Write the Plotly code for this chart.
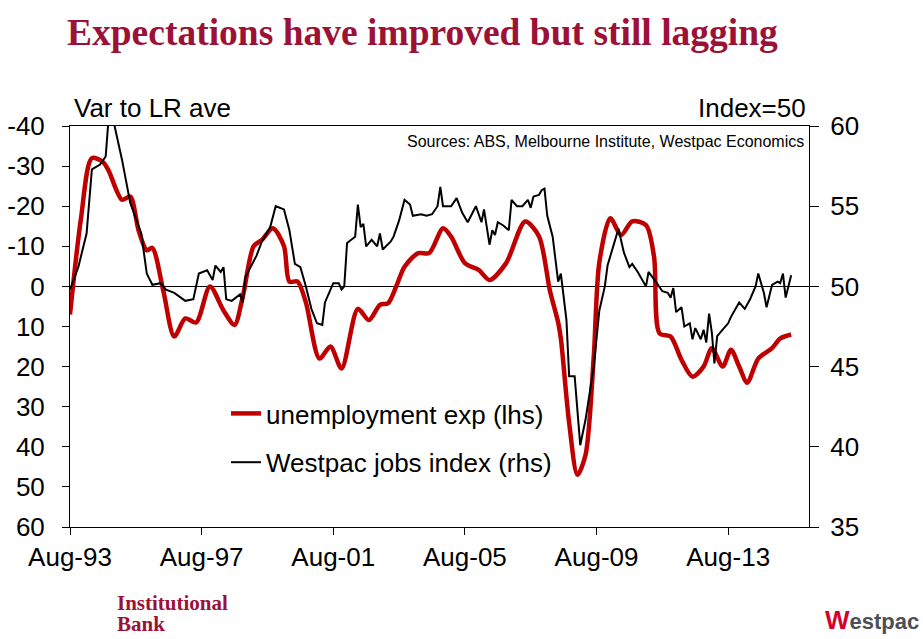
import plotly.graph_objects as go

# unemployment expectations, var to long-run average (lhs, inverted)
unemp_dates = ["1993-08", "1993-12", "1994-04", "1994-08", "1994-10", "1995-03", "1995-06",
               "1995-09", "1995-12", "1996-02", "1996-06", "1996-10", "1997-02", "1997-06",
               "1997-11", "1998-04", "1998-08", "1998-11", "1999-03", "1999-06", "1999-10",
               "2000-02", "2000-04", "2000-07", "2000-10", "2001-03", "2001-07", "2001-11",
               "2002-05", "2002-09", "2003-01", "2003-04", "2003-07", "2003-10", "2004-03",
               "2004-07", "2004-12", "2005-03", "2005-08", "2006-01", "2006-05", "2006-11",
               "2007-06", "2007-11", "2008-03", "2008-06", "2008-07", "2008-10", "2009-01",
               "2009-04", "2009-07", "2009-09", "2010-01", "2010-05", "2010-09", "2011-02",
               "2011-05", "2011-07", "2011-11", "2012-03", "2012-07", "2012-11", "2013-02",
               "2013-06", "2013-09", "2013-12", "2014-03", "2014-07", "2014-12", "2015-03",
               "2015-07"]
unemp_values = [7, -17, -32, -31, -29, -21.6, -22.4,
                -14, -9, -9.6, 1, 12.5, 8, 9,
                0, 6, 9.6, 2.5, -10, -11.6, -14.5,
                -10, -1.2, -1.2, 4, 18, 15, 20.5,
                5.6, 8.4, 4.6, 4.2, 0, -4.9, -8.3,
                -8.3, -14.5, -12.4, -5.8, -4.1, -1.6, -5.8,
                -16.2, -12.5, 1, 9, 13, 34, 47,
                42, 17.5, -6, -17, -12.8, -16.2, -15.3,
                -7.4, 11.7, 12.5, 18.3, 22.5, 20, 15.4,
                20, 15.8, 20, 24, 18, 15.4, 13,
                12]

# Westpac jobs index (rhs)
jobs_dates = ["1993-08", "1993-11", "1994-02", "1994-04", "1994-07", "1994-09", "1994-10", "1994-12",
              "1995-03", "1995-06", "1995-10", "1995-12", "1996-02", "1996-05", "1996-07", "1996-10",
              "1997-02", "1997-05", "1997-07", "1997-10", "1997-12", "1998-01", "1998-03", "1998-04",
              "1998-05", "1998-07", "1998-10", "1998-11", "1998-12", "1999-04", "1999-06", "1999-09",
              "1999-11", "2000-02", "2000-04", "2000-06", "2000-08", "2000-10", "2000-12", "2001-02",
              "2001-04", "2001-05", "2001-08", "2001-10", "2001-11", "2001-12", "2002-01", "2002-04",
              "2002-05", "2002-06", "2002-07", "2002-08", "2002-10", "2002-12", "2003-01", "2003-02",
              "2003-05", "2003-06", "2003-08", "2003-10", "2003-12", "2004-01", "2004-04", "2004-06",
              "2004-08", "2004-10", "2004-11", "2004-12", "2005-03", "2005-05", "2005-07", "2005-09",
              "2005-12", "2006-02", "2006-03", "2006-05", "2006-06", "2006-07", "2006-08", "2006-10",
              "2006-12", "2007-01", "2007-03", "2007-05", "2007-07", "2007-08", "2007-09", "2007-11",
              "2007-12", "2008-01", "2008-02", "2008-04", "2008-06", "2008-07", "2008-09", "2008-10",
              "2008-12", "2009-02", "2009-04", "2009-07", "2009-09", "2009-11", "2009-12", "2010-04",
              "2010-06", "2010-08", "2010-09", "2010-11", "2011-02", "2011-03", "2011-06", "2011-08",
              "2011-10", "2011-11", "2011-12", "2012-01", "2012-03", "2012-04", "2012-06", "2012-07",
              "2012-08", "2012-10", "2012-11", "2012-12", "2013-01", "2013-02", "2013-03", "2013-04",
              "2013-06", "2013-08", "2013-09", "2013-12", "2014-02", "2014-04", "2014-06", "2014-07",
              "2014-09", "2014-10", "2014-12", "2015-02", "2015-03", "2015-04", "2015-05", "2015-07"]
jobs_values = [49.8, 51.2, 53.3, 57.3, 57.6, 58.1, 60.3, 60.2,
               57.9, 55.2, 53.3, 50.8, 50.1, 50.2, 49.8, 49.6,
               49.1, 49.2, 50.8, 51.0, 50.4, 51.3, 50.9, 51.2,
               49.2, 49.1, 49.5, 49.0, 50.6, 51.9, 52.8, 53.7,
               55.0, 54.8, 53.5, 51.4, 51.2, 50.0, 48.6, 47.7,
               47.6, 49.0, 50.2, 50.2, 49.8, 50.0, 52.7, 53.1,
               55.1, 53.7, 53.9, 52.5, 52.9, 52.5, 53.3, 52.3,
               52.8, 53.1, 54.1, 55.4, 55.1, 54.4, 54.5, 54.4,
               54.5, 55.0, 56.2, 55.0, 55.0, 55.5, 54.6, 54.0,
               55.0, 54.0, 54.8, 52.6, 53.5, 53.2, 54.0, 53.8,
               53.5, 55.4, 55.0, 55.0, 55.4, 54.9, 55.6, 55.7,
               56.0, 56.1, 54.4, 53.1, 50.3, 50.8, 47.9, 44.4,
               44.4, 40.1, 41.7, 45.0, 48.5, 50.0, 51.3, 53.6,
               52.1, 51.2, 51.4, 50.9, 50.0, 50.9, 50.2, 49.7,
               49.6, 49.3, 49.9, 48.4, 48.7, 47.5, 47.7, 46.7,
               47.4, 46.7, 47.3, 46.5, 48.3, 47.1, 45.2, 46.9,
               47.3, 47.7, 48.1, 49.0, 48.6, 49.2, 50.0, 50.8,
               49.6, 48.7, 50.1, 50.3, 50.2, 50.8, 49.3, 50.7]

tick_years = [1993, 1997, 2001, 2005, 2009, 2013]
x_ticks = [f"{y}-08-01" for y in tick_years]
x_labels = [f"Aug-{str(y)[2:]}" for y in tick_years]
lhs_ticks = [-40, -30, -20, -10, 0, 10, 20, 30, 40, 50, 60]
rhs_ticks = [35, 40, 45, 50, 55, 60]

RED = "#C00000"
CRIMSON = "#9C1236"
SANS = "Liberation Sans, Arial, sans-serif"
SERIF = "Liberation Serif, Times New Roman, serif"

fig = go.Figure()
fig.add_trace(go.Scatter(x=unemp_dates, y=unemp_values, name="unemployment exp (lhs)",
                         mode="lines", line=dict(color=RED, width=4.5, shape="spline", smoothing=0.8),
                         legendgroup="a", yaxis="y"))
fig.add_trace(go.Scatter(x=jobs_dates, y=jobs_values, name="Westpac jobs index (rhs)",
                         mode="lines", line=dict(color="black", width=2),
                         legendgroup="b", yaxis="y2"))

axis_font = dict(family=SANS, size=26, color="black")

fig.update_layout(
    width=923, height=639,
    margin=dict(l=70, r=114, t=126, b=112, autoexpand=False),
    paper_bgcolor="white", plot_bgcolor="white",
    title=dict(text="<b>Expectations have improved but still lagging</b>",
               x=67 / 923, xanchor="left", y=1 - 32 / 639, yanchor="middle",
               font=dict(family=SERIF, size=37.5, color=CRIMSON)),
    xaxis=dict(type="date", range=["1993-08-01", "2016-01-15"],
               tickvals=x_ticks, ticktext=x_labels, tickfont=axis_font,
               ticks="outside", ticklen=7, tickcolor="black",
               showline=True, linecolor="black", linewidth=1, mirror=True,
               showgrid=False, zeroline=False),
    yaxis=dict(range=[60, -40], tickvals=lhs_ticks, ticktext=[str(v) for v in lhs_ticks],
               tickfont=axis_font, ticks="outside", ticklen=7, tickcolor="black",
               ticklabelstandoff=12,
               showline=True, linecolor="black", linewidth=1,
               showgrid=False, zeroline=True, zerolinecolor="black", zerolinewidth=1),
    yaxis2=dict(range=[35, 60], overlaying="y", side="right", tickvals=rhs_ticks,
                tickfont=axis_font, ticks="outside", ticklen=9, tickcolor="black",
                ticklabelstandoff=6,
                showline=True, linecolor="black", linewidth=1,
                showgrid=False, zeroline=False),
    legend=dict(x=(226 - 70) / 739, xanchor="left", y=(527 - 390) / 401, yanchor="top",
                font=dict(family=SANS, size=26, color="black"),
                bgcolor="rgba(0,0,0,0)", traceorder="grouped", tracegroupgap=12,
                itemwidth=30),
    showlegend=True,
)

notes = [
    dict(text="Var to LR ave", x=(72 - 70) / 739, y=(527 - 108) / 401, xanchor="left",
         font=dict(family=SANS, size=26, color="black")),
    dict(text="Index=50", x=(808 - 70) / 739, y=(527 - 108) / 401, xanchor="right",
         font=dict(family=SANS, size=26, color="black")),
    dict(text="Sources: ABS, Melbourne Institute, Westpac Economics", x=(806 - 70) / 739,
         y=(527 - 141) / 401, xanchor="right", font=dict(family=SANS, size=16, color="black")),
    dict(text="<b>Institutional</b>", x=(115 - 70) / 739, y=(527 - 603) / 401, xanchor="left",
         font=dict(family=SERIF, size=21, color=CRIMSON)),
    dict(text="<b>Bank</b>", x=(115 - 70) / 739, y=(527 - 624) / 401, xanchor="left",
         font=dict(family=SERIF, size=21, color=CRIMSON)),
    dict(text="<b><span style='color:#D5002B;font-size:26px'>W</span>estpac</b>",
         x=(921 - 70) / 739, y=(527 - 620) / 401, xanchor="right",
         font=dict(family=SANS, size=22, color="#4D4F53")),
]
for n in notes:
    fig.add_annotation(xref="paper", yref="paper", yanchor="middle", showarrow=False, **n)

# page body has a default margin; drop it so the figure sits at the window origin
fig.write_html("out.html", config={"displayModeBar": False},
               post_script="document.body.style.margin='0';")
